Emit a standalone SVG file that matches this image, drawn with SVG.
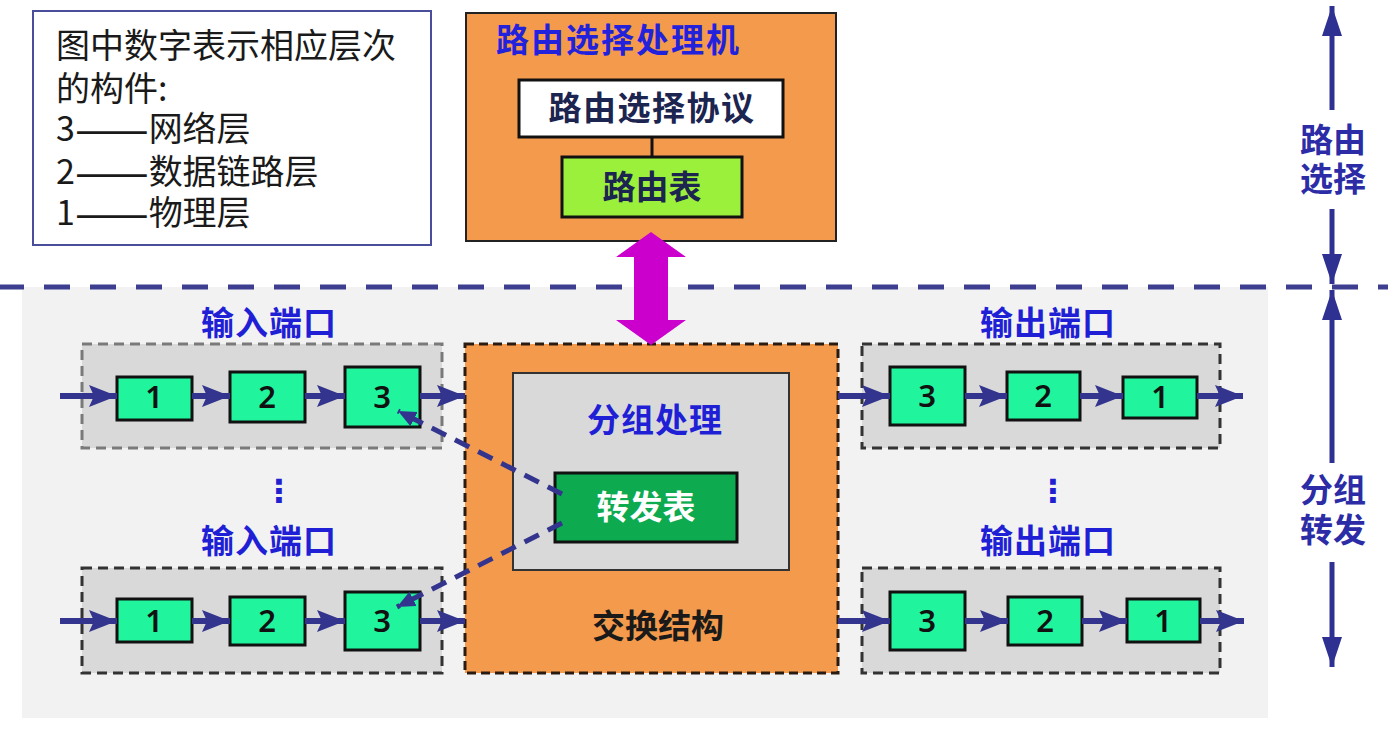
<svg xmlns="http://www.w3.org/2000/svg" width="1388" height="730" viewBox="0 0 1388 730">
<defs>
<style>
.cjk{font-family:"Noto Sans CJK SC","Liberation Sans",sans-serif}
.lg{font-size:34px;fill:#1a1a1a}
.lbl{font-size:33px;font-weight:700;fill:#1f1fd6;text-anchor:middle;letter-spacing:1px}
.side{font-size:33px;font-weight:700;fill:#2b2ca6;text-anchor:middle}
.dk{font-size:33px;font-weight:700;fill:#1c2450;text-anchor:middle}
.num{font-family:"Noto Sans","Liberation Sans",sans-serif;font-size:31px;font-weight:600;fill:#111;text-anchor:middle}
.port{stroke-width:3;stroke-dasharray:10 6}
.cell{fill:#20f59e;stroke:#111;stroke-width:3}
.flow{stroke:#33348e;stroke-width:6;fill:none;marker-end:url(#ah)}
.ctl{stroke:#33348e;stroke-width:5;fill:none;stroke-dasharray:16 10;marker-end:url(#ahs)}
.vax{stroke:#2f3192;stroke-width:5;fill:none}
.dots{font-family:"DejaVu Sans",sans-serif;font-size:32px;font-weight:700;fill:#2020d0;text-anchor:middle}
</style>
<marker id="ah" markerUnits="userSpaceOnUse" markerWidth="30" markerHeight="24" refX="28" refY="11" orient="auto">
<path d="M0,0 L28,11 L0,22 L5,11 z" fill="#33348e"/>
</marker>
<marker id="ahs" markerUnits="userSpaceOnUse" markerWidth="20" markerHeight="18" refX="18" refY="8" orient="auto">
<path d="M0,0 L18,8 L0,16 z" fill="#33348e"/>
</marker>
<marker id="va" markerUnits="userSpaceOnUse" markerWidth="32" markerHeight="22" refX="30" refY="10" orient="auto">
<path d="M0,0 L30,10 L0,20 z" fill="#2f3192"/>
</marker>
</defs>

<rect x="22" y="287" width="1246" height="431" fill="#f2f2f2"/>

<g id="legend">
<rect x="33" y="11" width="398" height="234" fill="#ffffff" stroke="#4a4c9c" stroke-width="2"/>
<text class="cjk lg"><tspan x="56" y="58">图中数字表示相应层次</tspan><tspan x="56" y="101">的构件:</tspan><tspan x="56" y="141">3<tspan font-size="44" dy="4">——</tspan><tspan dy="-4">网络层</tspan></tspan><tspan x="56" y="184">2<tspan font-size="44" dy="4">——</tspan><tspan dy="-4">数据链路层</tspan></tspan><tspan x="56" y="225">1<tspan font-size="44" dy="4">——</tspan><tspan dy="-4">物理层</tspan></tspan></text>
</g>

<g id="routing-processor">
<rect x="466" y="13" width="370" height="228" fill="#f49a4c" stroke="#222" stroke-width="2"/>
<text class="cjk" x="496" y="52" font-size="33" font-weight="700" fill="#2222dd" letter-spacing="2">路由选择处理机</text>
</g>
<g id="routing-protocol">
<rect x="519" y="80" width="264" height="57" fill="#ffffff" stroke="#111" stroke-width="3"/>
<text class="cjk dk" x="652" y="120" letter-spacing="1.5">路由选择协议</text>
</g>
<g id="routing-table">
<rect x="562" y="157" width="180" height="60" fill="#9bf03c" stroke="#111" stroke-width="3"/>
<text class="cjk dk" x="652" y="199">路由表</text>
</g>

<line x1="0" y1="287" x2="1388" y2="287" stroke="#3d3e90" stroke-width="5" stroke-dasharray="26 20" stroke-dashoffset="2"/>

<g id="input-port-1">
<rect class="port" x="82" y="344" width="360" height="104" fill="#d9d9d9" stroke="#7a7a7a"/>
<text class="cjk lbl" x="269" y="335">输入端口</text>
<rect class="cell" x="117" y="377" width="75" height="43"/>
<text class="num" x="154" y="408">1</text>
<rect class="cell" x="230" y="372" width="75" height="50"/>
<text class="num" x="267" y="408">2</text>
<rect class="cell" x="345" y="367" width="75" height="60"/>
<text class="num" x="382" y="408">3</text>
</g>

<g id="input-port-2">
<rect class="port" x="82" y="568" width="360" height="105" fill="#d9d9d9" stroke="#333"/>
<text class="cjk lbl" x="269" y="553">输入端口</text>
<rect class="cell" x="117" y="599" width="75" height="43"/>
<text class="num" x="154" y="632">1</text>
<rect class="cell" x="230" y="597" width="75" height="48"/>
<text class="num" x="267" y="632">2</text>
<rect class="cell" x="345" y="592" width="75" height="58"/>
<text class="num" x="382" y="632">3</text>
</g>

<g id="switch-fabric">
<rect x="465" y="344" width="373" height="329" fill="#f49a4c" stroke="#2a1a10" stroke-width="3" stroke-dasharray="9 5"/>
<text class="cjk" x="658" y="638" font-size="33" font-weight="700" fill="#1a1a1a" text-anchor="middle">交换结构</text>
</g>
<g id="packet-processing">
<rect x="513" y="373" width="276" height="197" fill="#d9d9d9" stroke="#333" stroke-width="2"/>
<text class="cjk lbl" x="655" y="432">分组处理</text>
</g>
<g id="forwarding-table">
<rect x="555" y="473" width="182" height="69" fill="#0daa50" stroke="#111" stroke-width="3"/>
<text class="cjk" x="646" y="519" font-size="33" font-weight="700" fill="#ffffff" text-anchor="middle">转发表</text>
</g>

<g id="output-port-1">
<rect class="port" x="862" y="344" width="358" height="104" fill="#d9d9d9" stroke="#333"/>
<text class="cjk lbl" x="1048" y="335">输出端口</text>
<rect class="cell" x="890" y="367" width="75" height="58"/>
<text class="num" x="927" y="407">3</text>
<rect class="cell" x="1007" y="372" width="73" height="48"/>
<text class="num" x="1043" y="407">2</text>
<rect class="cell" x="1123" y="377" width="74" height="41"/>
<text class="num" x="1160" y="408">1</text>
</g>

<g id="output-port-2">
<rect class="port" x="862" y="568" width="358" height="105" fill="#d9d9d9" stroke="#333"/>
<text class="cjk lbl" x="1048" y="553">输出端口</text>
<rect class="cell" x="890" y="592" width="75" height="58"/>
<text class="num" x="927" y="632">3</text>
<rect class="cell" x="1008" y="597" width="74" height="48"/>
<text class="num" x="1045" y="632">2</text>
<rect class="cell" x="1127" y="599" width="73" height="43"/>
<text class="num" x="1163" y="632">1</text>
</g>

<g id="ellipsis">
<text class="dots" x="279" y="502">⋮</text>
<text class="dots" x="1053" y="502">⋮</text>
</g>

<g id="side-labels">
<text class="cjk side"><tspan x="1333" y="152">路由</tspan><tspan x="1333" y="191">选择</tspan></text>
<text class="cjk side"><tspan x="1333" y="502">分组</tspan><tspan x="1333" y="542">转发</tspan></text>
</g>

<g id="connectors">
<line class="flow" x1="60" y1="396" x2="117" y2="396"/>
<line class="flow" x1="192" y1="396" x2="230" y2="396"/>
<line class="flow" x1="305" y1="396" x2="345" y2="396"/>
<line class="flow" x1="420" y1="396" x2="465" y2="396"/>
<line class="flow" x1="60" y1="621" x2="117" y2="621"/>
<line class="flow" x1="192" y1="621" x2="230" y2="621"/>
<line class="flow" x1="305" y1="621" x2="345" y2="621"/>
<line class="flow" x1="420" y1="621" x2="465" y2="621"/>
<line class="flow" x1="838" y1="396" x2="890" y2="396"/>
<line class="flow" x1="965" y1="396" x2="1007" y2="396"/>
<line class="flow" x1="1080" y1="396" x2="1123" y2="396"/>
<line class="flow" x1="1197" y1="396" x2="1243" y2="396"/>
<line class="flow" x1="838" y1="621" x2="890" y2="621"/>
<line class="flow" x1="965" y1="621" x2="1008" y2="621"/>
<line class="flow" x1="1082" y1="621" x2="1127" y2="621"/>
<line class="flow" x1="1200" y1="621" x2="1244" y2="621"/>
<line class="ctl" x1="562" y1="494" x2="398" y2="411"/>
<line class="ctl" x1="562" y1="523" x2="397" y2="607"/>
<line x1="652" y1="137" x2="652" y2="157" stroke="#111" stroke-width="3"/>
<polygon points="651,232 686,257 668,257 668,320 686,320 651,345 616,320 634,320 634,257 616,257" fill="#cc00cc"/>
<line class="vax" x1="1332" y1="110" x2="1332" y2="6" marker-end="url(#va)"/>
<line class="vax" x1="1332" y1="209" x2="1332" y2="284" marker-end="url(#va)"/>
<line class="vax" x1="1332" y1="463" x2="1332" y2="290" marker-end="url(#va)"/>
<line class="vax" x1="1332" y1="562" x2="1332" y2="667" marker-end="url(#va)"/>
</g>
</svg>
